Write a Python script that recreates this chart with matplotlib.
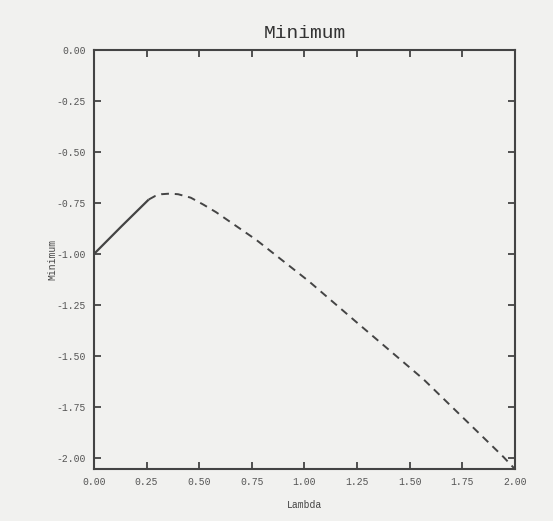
import numpy as np
from matplotlib import pyplot as plt

# values
lam_solid = [0.0, 0.13, 0.26]
min_solid = [-1.0, -0.865, -0.733]

lam_dash = [0.26, 0.29, 0.32, 0.36, 0.40, 0.46, 0.52, 0.58, 0.77, 1.02, 1.25, 1.565, 1.945, 2.0]
min_dash = [-0.733, -0.716, -0.707, -0.704, -0.707, -0.724, -0.758, -0.795, -0.93, -1.133, -1.337, -1.614, -1.995, -2.055]

xticks = [0.0, 0.25, 0.5, 0.75, 1.0, 1.25, 1.5, 1.75, 2.0]
yticks = [0.0, -0.25, -0.5, -0.75, -1.0, -1.25, -1.5, -1.75, -2.0]

plt.rcParams['font.family'] = ['Liberation Mono', 'DejaVu Sans Mono']

bg = '#f1f1ef'
ink = '#444444'

fig = plt.figure(figsize=(5.53, 5.21), dpi=100, facecolor=bg)
ax = fig.add_axes([0.170, 0.0998, 0.761, 0.804], facecolor=bg)

ax.plot(lam_solid, min_solid, color=ink, lw=1.6, solid_capstyle='butt')
ax.plot(lam_dash, min_dash, color=ink, lw=1.4, dashes=(4, 3))

ax.set_xlim(0, 2.0)
ax.set_ylim(-2.055, 0)
ax.set_xticks(xticks)
ax.set_yticks(yticks)
ax.set_xticklabels(['%.2f' % v for v in xticks])
ax.set_yticklabels(['%.2f' % v for v in yticks])
ax.tick_params(direction='in', length=5, width=1.3, color=ink,
               top=True, right=True, labelsize=7, labelcolor='#555555', pad=6)
for s in ax.spines.values():
    s.set_color(ink)
    s.set_linewidth(1.5)

ax.set_title('Minimum', fontsize=14, color='#333333', pad=9)
ax.set_xlabel('Lambda', fontsize=7, color='#444444', labelpad=9)
ax.set_ylabel('Minimum', fontsize=7, color='#444444', labelpad=-1)

fig.savefig('out.png', dpi=100, facecolor=bg)
